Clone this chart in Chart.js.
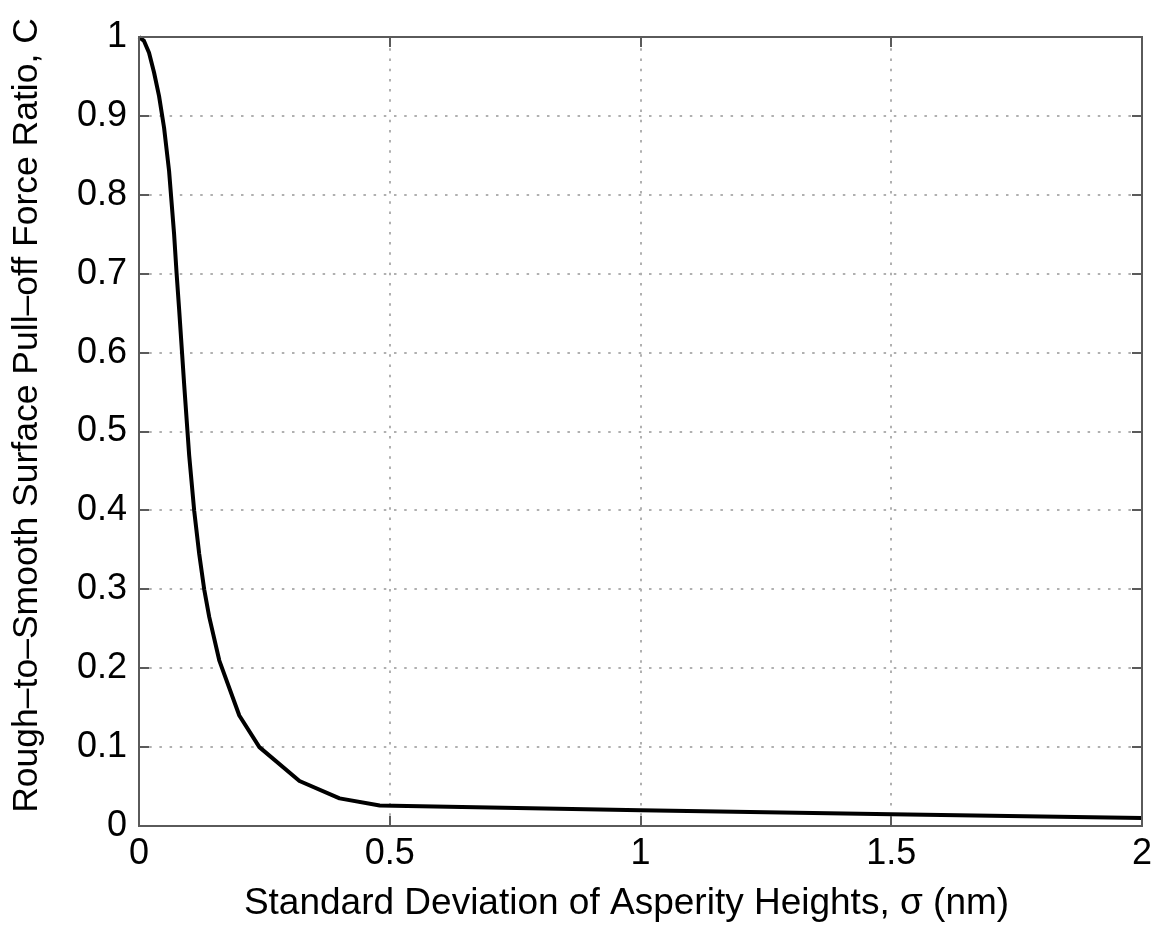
<!DOCTYPE html>
<html>
<head>
<meta charset="utf-8">
<script src="https://cdn.jsdelivr.net/npm/chart.js@4"></script>
<style>
  html, body { margin: 0; padding: 0; background: #fff; }
  #wrap { width: 1161px; height: 928px; position: relative; }
</style>
</head>
<body>
<div id="wrap"><canvas id="c" width="1161" height="928"></canvas></div>
<script>
// ---- data ----
const sigma = [0, 0.01, 0.02, 0.03, 0.04, 0.05, 0.06, 0.07, 0.075, 0.08, 0.09, 0.10, 0.11, 0.12, 0.13, 0.14, 0.16, 0.20, 0.24, 0.32, 0.40, 0.48, 1.0, 1.5, 2.0];
const ratio = [1.0, 0.995, 0.98, 0.955, 0.925, 0.885, 0.83, 0.75, 0.70, 0.655, 0.56, 0.47, 0.40, 0.345, 0.30, 0.265, 0.21, 0.14, 0.10, 0.057, 0.035, 0.026, 0.020, 0.015, 0.010];
const xTicks = [0, 0.5, 1, 1.5, 2];
const yTicks = [0, 0.1, 0.2, 0.3, 0.4, 0.5, 0.6, 0.7, 0.8, 0.9, 1];
const xTitle = 'Standard Deviation of Asperity Heights, σ (nm)';
const yTitle = 'Rough–to–Smooth Surface Pull–off Force Ratio, C';

const FONT = '"Liberation Sans", Arial, Helvetica, sans-serif';

// small offsets of the axis titles along their axes (the reference centres them slightly off the plot centre)
const titleShift = { x: [-14, 0], y: [0, -16] };

const frame = {
  id: 'frame',
  afterLayout(chart) {
    for (const id of ['x', 'y']) {
      const s = chart.scales[id];
      if (s && !s._shiftPatched) {
        const orig = s.drawTitle;
        s.drawTitle = function () {
          const ctx = this.ctx;
          ctx.save();
          ctx.translate(titleShift[id][0], titleShift[id][1]);
          orig.apply(this, arguments);
          ctx.restore();
        };
        s._shiftPatched = true;
      }
    }
  },
  beforeDatasetsDraw(chart) {
    const {ctx, chartArea: a, scales: {x, y}} = chart;
    ctx.save();
    ctx.strokeStyle = '#b0b0b0';
    ctx.lineWidth = 2;
    ctx.setLineDash([2.5, 7.7]);
    for (const v of xTicks) {
      if (v === xTicks[0] || v === xTicks[xTicks.length - 1]) continue;
      const px = Math.round(x.getPixelForValue(v));
      ctx.beginPath(); ctx.moveTo(px, a.bottom); ctx.lineTo(px, a.top); ctx.stroke();
    }
    for (const v of yTicks) {
      if (v === yTicks[0] || v === yTicks[yTicks.length - 1]) continue;
      const py = Math.round(y.getPixelForValue(v));
      ctx.beginPath(); ctx.moveTo(a.left, py); ctx.lineTo(a.right, py); ctx.stroke();
    }
    ctx.restore();
  },
  afterDatasetsDraw(chart) {
    const {ctx, chartArea: a, scales: {x, y}} = chart;
    ctx.save();
    ctx.strokeStyle = '#5a5a5a';
    ctx.lineWidth = 2;
    ctx.setLineDash([]);
    ctx.strokeRect(a.left, a.top, a.right - a.left, a.bottom - a.top);
    const L = 10;
    ctx.beginPath();
    for (const v of xTicks) {
      const px = Math.round(x.getPixelForValue(v));
      ctx.moveTo(px, a.bottom); ctx.lineTo(px, a.bottom - L);
      ctx.moveTo(px, a.top); ctx.lineTo(px, a.top + L);
    }
    for (const v of yTicks) {
      const py = Math.round(y.getPixelForValue(v));
      ctx.moveTo(a.left, py); ctx.lineTo(a.left + L, py);
      ctx.moveTo(a.right, py); ctx.lineTo(a.right - L, py);
    }
    ctx.stroke();
    ctx.restore();
  }
};

new Chart(document.getElementById('c'), {
  type: 'line',
  data: {
    datasets: [{
      data: sigma.map((s, i) => ({x: s, y: ratio[i]})),
      borderColor: '#000',
      borderWidth: 4,
      pointRadius: 0,
      tension: 0,
      borderJoinStyle: 'round',
      fill: false,
      clip: false
    }]
  },
  options: {
    responsive: false,
    animation: false,
    devicePixelRatio: 1,
    layout: { padding: { top: 37, right: 19, left: 0, bottom: 0 } },
    plugins: { legend: { display: false }, tooltip: { enabled: false } },
    scales: {
      x: {
        type: 'linear', min: 0, max: 2,
        afterBuildTicks: s => { s.ticks = xTicks.map(v => ({value: v})); },
        afterFit: s => { s.height = 102; },
        grid: { display: false, drawTicks: false },
        border: { display: false },
        ticks: { color: '#000', padding: 6, maxRotation: 0,
                 font: { family: FONT, size: 36 },
                 callback: v => String(v) },
        title: { display: true, text: xTitle, color: '#000', padding: { top: 0, bottom: 2 },
                 font: { family: FONT, size: 37 } }
      },
      y: {
        type: 'linear', min: 0, max: 1,
        afterBuildTicks: s => { s.ticks = yTicks.map(v => ({value: v})); },
        afterFit: s => { s.width = 139; },
        grid: { display: false, drawTicks: false },
        border: { display: false },
        ticks: { color: '#000', padding: 12,
                 font: { family: FONT, size: 36 },
                 callback: v => String(v) },
        title: { display: true, text: yTitle, color: '#000', padding: { top: 6, bottom: 0 },
                 font: { family: FONT, size: 35.5 } }
      }
    }
  },
  plugins: [frame]
});
</script>
</body>
</html>
